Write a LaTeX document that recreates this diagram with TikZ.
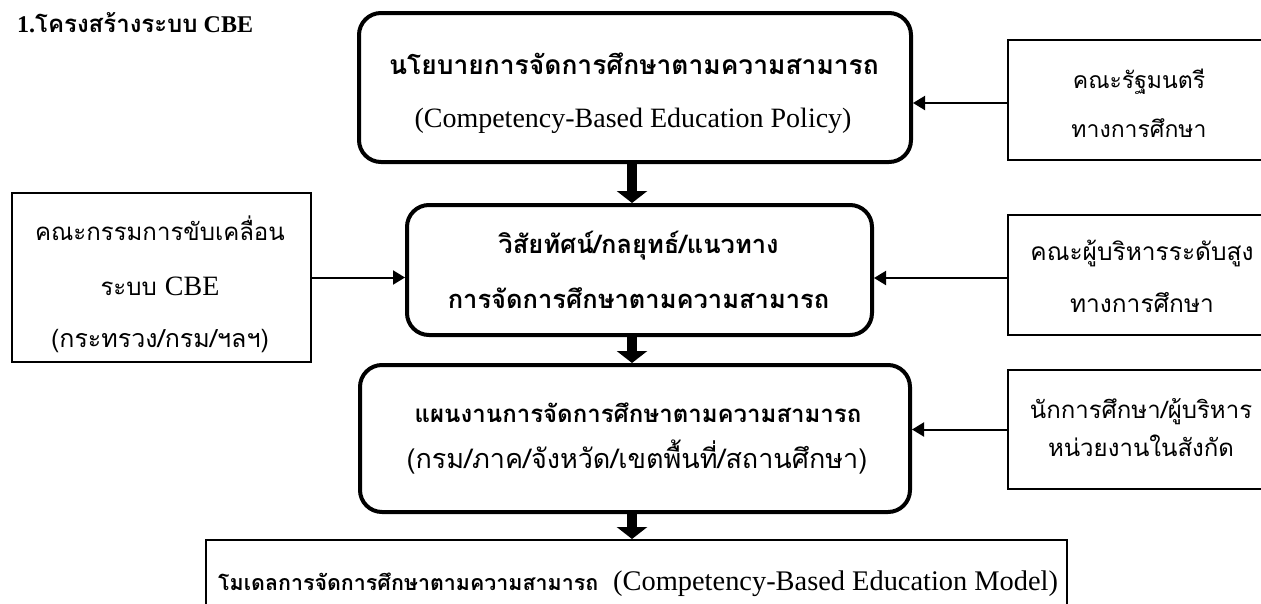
\documentclass[tikz,border=0pt]{standalone}
\usepackage{fontspec}
\setmainfont{Liberation Serif}
\newfontfamily\thai[Script=Thai]{Loma}
\usetikzlibrary{arrows.meta}
\begin{document}
\begin{tikzpicture}[x=1pt,y=-1pt,
  rbox/.style={draw, line width=4pt, rounded corners=22pt, inner sep=0pt},
  sbox/.style={draw, line width=2pt, inner sep=0pt},
  txt/.style={anchor=base, inner sep=0pt},
  conn/.style={line width=2pt, -{Triangle[width=14pt,length=12pt]}},
  bigarrow/.style={line width=10pt, -{Triangle[width=30pt,length=12pt]}}]
\clip (0,0) rectangle (1261,603);
\fill[white] (0,0) rectangle (1261,603);
% title
\node[txt, anchor=base west, font=\bfseries\fontsize{24}{24}\selectfont] (title) at (17,32) {1.{\thai\bfseries โครงสร้างระบบ} CBE};
% boxes
\node[rbox, minimum width=552, minimum height=149] (policy) at (635,87.5) {};
\node[rbox, minimum width=465, minimum height=130] (vision) at (639.5,270) {};
\node[rbox, minimum width=550, minimum height=147] (plan) at (635,438.5) {};
\node[sbox, minimum width=861, minimum height=100] (model) at (636.5,590) {};
\node[sbox, minimum width=260, minimum height=120] (cabinet) at (1138,100) {};
\node[sbox, minimum width=260, minimum height=120] (exec) at (1138,275) {};
\node[sbox, minimum width=260, minimum height=119] (edu) at (1138,429.5) {};
\node[sbox, minimum width=299, minimum height=169] (comm) at (161.5,277.5) {};
% texts
\node[txt, font=\thai\bfseries\fontsize{26.4}{30}\selectfont] (policyA) at (634,74) {นโยบายการจัดการศึกษาตามความสามารถ};
\node[txt, font=\fontsize{28}{30}\selectfont] (policyB) at (633,127) {(Competency-Based Education Policy)};
\node[txt, font=\thai\bfseries\fontsize{25.5}{30}\selectfont] (visionA) at (638.5,253) {วิสัยทัศน์/กลยุทธ์/แนวทาง};
\node[txt, font=\thai\bfseries\fontsize{25.5}{30}\selectfont] (visionB) at (638.5,308) {การจัดการศึกษาตามความสามารถ};
\node[txt, font=\thai\bfseries\fontsize{24}{30}\selectfont] (planA) at (638,422) {แผนงานการจัดการศึกษาตามความสามารถ};
\node[txt, font=\thai\fontsize{27}{30}\selectfont] (planB) at (637,468) {(กรม/ภาค/จังหวัด/เขตพื้นที่/สถานศึกษา)};
\node[txt, anchor=base west, font=\fontsize{28.4}{30}\selectfont] (modelA) at (218,590) {{\thai\bfseries\fontsize{21.4}{30}\selectfont โมเดลการจัดการศึกษาตามความสามารถ}\hspace{15pt}(Competency-Based Education Model)};
\node[txt, font=\thai\fontsize{23}{30}\selectfont] (cabinetA) at (1139,88) {คณะรัฐมนตรี};
\node[txt, font=\thai\fontsize{23}{30}\selectfont] (cabinetB) at (1139,137) {ทางการศึกษา};
\node[txt, font=\thai\fontsize{24.5}{30}\selectfont] (execA) at (1142,260) {คณะผู้บริหารระดับสูง};
\node[txt, font=\thai\fontsize{24.5}{30}\selectfont] (execB) at (1142,312) {ทางการศึกษา};
\node[txt, font=\thai\fontsize{24}{30}\selectfont] (eduA) at (1141,418) {นักการศึกษา/ผู้บริหาร};
\node[txt, font=\thai\fontsize{24}{30}\selectfont] (eduB) at (1141,456) {หน่วยงานในสังกัด};
\node[txt, font=\thai\fontsize{24}{30}\selectfont] (commA) at (160,240) {คณะกรรมการขับเคลื่อน};
\node[txt, font=\thai\fontsize{24}{30}\selectfont] (commB) at (160,295) {ระบบ {\rmfamily\fontsize{28}{30}\selectfont CBE}};
\node[txt, font=\thai\fontsize{25}{30}\selectfont] (commC) at (160,347) {(กระทรวง/กรม/ฯลฯ)};
% connectors
\draw[conn] ([yshift=-3pt]cabinet.west) -- ([yshift=-3pt]cabinet.west -| policy.east);
\draw[conn] (comm.east) -- (comm.east -| vision.west);
\draw[conn] ([yshift=-3pt]exec.west) -- ([yshift=-3pt]exec.west -| vision.east);
\draw[conn] (edu.west) -- (edu.west -| plan.east);
\draw[bigarrow] ([xshift=-3pt]policy.south) -- ([xshift=-3pt]policy.south |- vision.north);
\draw[bigarrow] ([xshift=-7.5pt]vision.south) -- ([xshift=-7.5pt]vision.south |- plan.north);
\draw[bigarrow] ([xshift=-3pt]plan.south) -- ([xshift=-3pt]plan.south |- model.north);
\end{tikzpicture}
\end{document}
